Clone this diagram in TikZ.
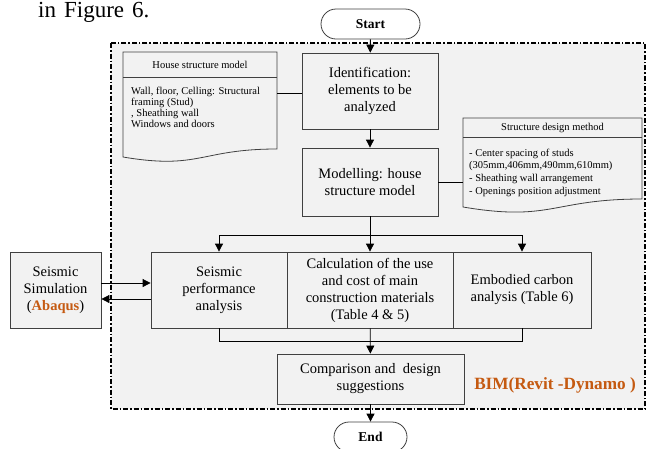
\documentclass[tikz,border=0pt]{standalone}
\usepackage{fontspec}
\setmainfont{Liberation Serif}
\usetikzlibrary{arrows.meta}
\definecolor{boxfill}{HTML}{F2F2F2}
\definecolor{edgec}{HTML}{404040}
\definecolor{orangeT}{HTML}{C55A11}
\begin{document}
\begin{tikzpicture}[x=1pt,y=-1pt,
  box/.style={draw=edgec, fill=boxfill, line width=0.8pt, inner sep=0pt, align=center, font=\fontsize{14.5}{17}\selectfont},
  term/.style={draw=edgec, fill=white, line width=0.8pt, rounded corners=15pt, inner sep=0pt, font=\bfseries\fontsize{13.5}{16}\selectfont},
  arr/.style={-{Triangle[length=8pt,width=8pt]}, line width=0.8pt},
  link/.style={line width=0.8pt},
  docbox/.style={draw=edgec, fill=boxfill, line width=0.8pt},
  ghost/.style={inner sep=0pt},
  small/.style={font=\fontsize{10.5}{11}\selectfont, inner sep=0pt}
]
\useasboundingbox (0,0) rectangle (650,448);
\node[anchor=base west, font=\fontsize{23}{28}\selectfont, inner sep=0pt] (fig) at (38,17) {in\hspace{0.35em}Figure\hspace{0.35em}6.};
% frame
\path[draw=black, fill=boxfill, line width=1.6pt, dash pattern=on 5pt off 2pt on 1.5pt off 2pt] (111,43) rectangle (645,409);
\node[font=\bfseries\fontsize{17.2}{20}\selectfont, text=orangeT, inner sep=0pt] (bim) at (555,385) {BIM(Revit -Dynamo )};

% terminals
\node[term, minimum width=99pt, minimum height=30pt] (start) at (370.5,24) {Start};
\node[term, minimum width=73pt, minimum height=30pt] (end) at (370.5,437) {End};

% main boxes
\node[box, minimum width=136pt, minimum height=76pt] (ident) at (370,91) {Identification:\\elements to be\\analyzed};
\node[box, minimum width=136pt, minimum height=68pt] (model) at (370,182) {Modelling: house\\structure model};
\node[box, minimum width=136pt, minimum height=76pt] (seis) at (219,290) {Seismic\\performance\\analysis};
\node[box, minimum width=166pt, minimum height=76pt] (calc) at (370,290) {Calculation of the use\\and cost of main\\construction materials\\(Table 4 \& 5)};
\node[box, minimum width=138pt, minimum height=76pt] (emb) at (522,290) {Embodied carbon\\analysis (Table 6)};
\node[box, minimum width=91pt, minimum height=76pt] (sim) at (55.5,290) {Seismic\\Simulation\\(\textbf{\textcolor{orangeT}{Abaqus}})};
\node[box, minimum width=187pt, minimum height=50pt] (comp) at (370.5,379) {Comparison and\ \ design\\suggestions};

% document shapes
\path[docbox] (123,52) -- (277,52) -- (277,149) .. controls (200,149) and (200,170) .. (123,157) -- cycle;
\draw[draw=edgec, line width=0.8pt] (123,77) -- (277,77);
\node[ghost, minimum width=154pt, minimum height=97pt] (hdoc) at (200,100.5) {};
\node[small] (hhead) at (200,65) {House structure model};
\node[small, anchor=north west, align=left] (hbody) at (131,87) {Wall, floor, Celling: Structural\\framing (Stud)\\, Sheathing wall\\Windows and doors};

\path[docbox] (463,118) -- (642,118) -- (642,199) .. controls (552,199) and (552,222) .. (463,207) -- cycle;
\draw[draw=edgec, line width=0.8pt] (463,137) -- (642,137);
\node[ghost, minimum width=179pt, minimum height=81pt] (sdoc) at (552.5,158.5) {};
\node[small] (shead) at (552.5,128) {Structure design method};
\node[small, anchor=north west, align=left, font=\fontsize{10.5}{12.7}\selectfont] (sbody) at (469,148.5) {- Center spacing of studs\\(305mm,406mm,490mm,610mm)\\- Sheathing wall arrangement\\- Openings position adjustment};

% connectors
\draw[arr] (start) -- (ident);
\draw[link] ([yshift=-2pt]ident.west) -- ([yshift=-2pt]ident.west -| hdoc.east);
\draw[arr] (ident) -- (model);
\draw[link] (model.east) -- (model.east -| sdoc.west);
\coordinate (dist) at (370,235);
\coordinate (coll) at (370,341);
\draw[arr] (model) -- (calc);
\draw[link] (dist -| seis) -- (dist -| emb);
\draw[arr] (dist -| seis) -- (seis.north);
\draw[arr] (dist -| emb) -- (emb.north);
\draw[link] (seis.south) -- (coll -| seis) -- (coll -| emb) -- (emb.south);
\draw[arr] (calc) -- (comp);
\draw[arr] (comp) -- (end);
\draw[arr] ([yshift=7pt]sim.east) -- ([yshift=7pt]seis.west);
\draw[arr] ([yshift=-9pt]seis.west) -- ([yshift=-9pt]sim.east);
\end{tikzpicture}
\end{document}
